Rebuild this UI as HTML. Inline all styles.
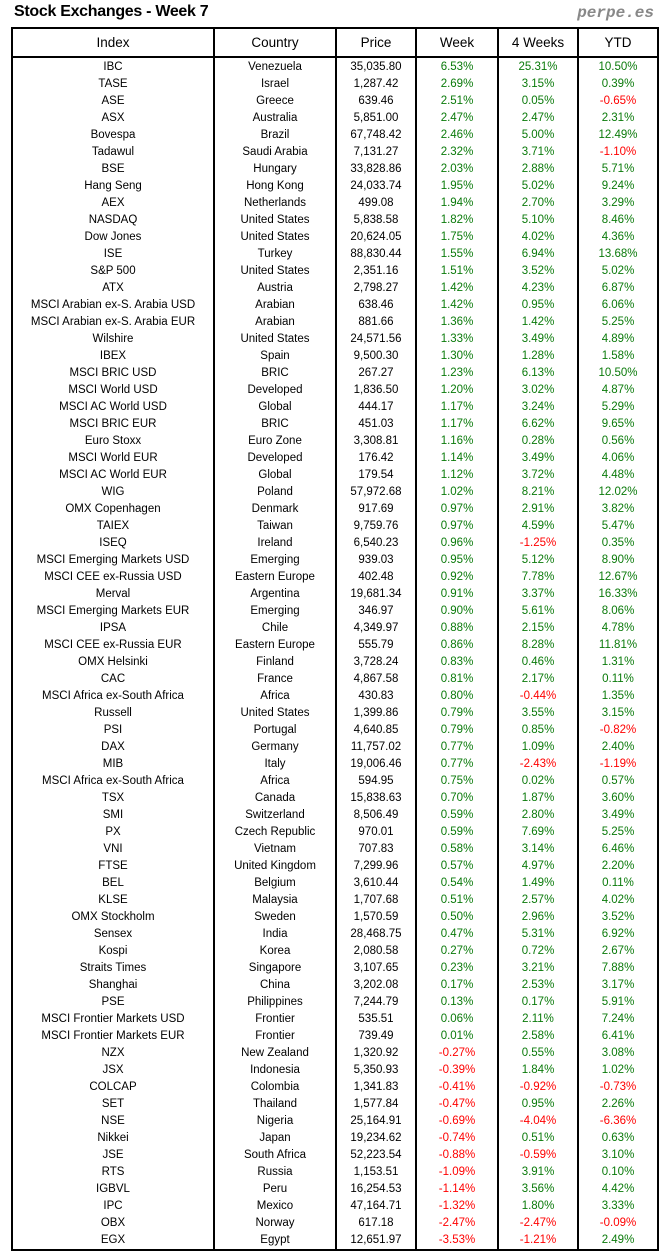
<!DOCTYPE html>
<html><head><meta charset="utf-8"><style>
body{margin:0;width:664px;height:1260px;background:#fff;position:relative;font-family:"Liberation Sans",sans-serif;overflow:hidden}
.t{position:absolute;left:14px;top:3px;font-size:16px;font-weight:bold;letter-spacing:-0.3px}
.p{position:absolute;right:10px;top:4px;font-family:"Liberation Mono",monospace;font-style:italic;font-weight:bold;font-size:16px;color:#888}
table{position:absolute;left:11px;top:27px;border-collapse:collapse;border:2px solid #000;font-size:11.5px}
td{padding:0;height:17px;line-height:17px;text-align:center;border-left:2px solid #000;white-space:nowrap}
th{font-weight:normal;font-size:13.5px;height:27px;padding:0;border:2px solid #000}
td:first-child{border-left:none}
tr.f td{padding-top:1px}
.g{color:#0a7a0a}.r{color:#f00}
</style></head><body>
<div class="t">Stock Exchanges - Week 7</div><div class="p">perpe.es</div>
<table>
<colgroup><col style="width:202px"><col style="width:122px"><col style="width:80px"><col style="width:82px"><col style="width:80px"><col style="width:80px"></colgroup>
<tr><th>Index</th><th>Country</th><th>Price</th><th>Week</th><th>4 Weeks</th><th>YTD</th></tr>
<tr class="f"><td>IBC</td><td>Venezuela</td><td>35,035.80</td><td class="g">6.53%</td><td class="g">25.31%</td><td class="g">10.50%</td></tr>
<tr><td>TASE</td><td>Israel</td><td>1,287.42</td><td class="g">2.69%</td><td class="g">3.15%</td><td class="g">0.39%</td></tr>
<tr><td>ASE</td><td>Greece</td><td>639.46</td><td class="g">2.51%</td><td class="g">0.05%</td><td class="r">-0.65%</td></tr>
<tr><td>ASX</td><td>Australia</td><td>5,851.00</td><td class="g">2.47%</td><td class="g">2.47%</td><td class="g">2.31%</td></tr>
<tr><td>Bovespa</td><td>Brazil</td><td>67,748.42</td><td class="g">2.46%</td><td class="g">5.00%</td><td class="g">12.49%</td></tr>
<tr><td>Tadawul</td><td>Saudi Arabia</td><td>7,131.27</td><td class="g">2.32%</td><td class="g">3.71%</td><td class="r">-1.10%</td></tr>
<tr><td>BSE</td><td>Hungary</td><td>33,828.86</td><td class="g">2.03%</td><td class="g">2.88%</td><td class="g">5.71%</td></tr>
<tr><td>Hang Seng</td><td>Hong Kong</td><td>24,033.74</td><td class="g">1.95%</td><td class="g">5.02%</td><td class="g">9.24%</td></tr>
<tr><td>AEX</td><td>Netherlands</td><td>499.08</td><td class="g">1.94%</td><td class="g">2.70%</td><td class="g">3.29%</td></tr>
<tr><td>NASDAQ</td><td>United States</td><td>5,838.58</td><td class="g">1.82%</td><td class="g">5.10%</td><td class="g">8.46%</td></tr>
<tr><td>Dow Jones</td><td>United States</td><td>20,624.05</td><td class="g">1.75%</td><td class="g">4.02%</td><td class="g">4.36%</td></tr>
<tr><td>ISE</td><td>Turkey</td><td>88,830.44</td><td class="g">1.55%</td><td class="g">6.94%</td><td class="g">13.68%</td></tr>
<tr><td>S&amp;P 500</td><td>United States</td><td>2,351.16</td><td class="g">1.51%</td><td class="g">3.52%</td><td class="g">5.02%</td></tr>
<tr><td>ATX</td><td>Austria</td><td>2,798.27</td><td class="g">1.42%</td><td class="g">4.23%</td><td class="g">6.87%</td></tr>
<tr><td>MSCI Arabian ex-S. Arabia USD</td><td>Arabian</td><td>638.46</td><td class="g">1.42%</td><td class="g">0.95%</td><td class="g">6.06%</td></tr>
<tr><td>MSCI Arabian ex-S. Arabia EUR</td><td>Arabian</td><td>881.66</td><td class="g">1.36%</td><td class="g">1.42%</td><td class="g">5.25%</td></tr>
<tr><td>Wilshire</td><td>United States</td><td>24,571.56</td><td class="g">1.33%</td><td class="g">3.49%</td><td class="g">4.89%</td></tr>
<tr><td>IBEX</td><td>Spain</td><td>9,500.30</td><td class="g">1.30%</td><td class="g">1.28%</td><td class="g">1.58%</td></tr>
<tr><td>MSCI BRIC USD</td><td>BRIC</td><td>267.27</td><td class="g">1.23%</td><td class="g">6.13%</td><td class="g">10.50%</td></tr>
<tr><td>MSCI World USD</td><td>Developed</td><td>1,836.50</td><td class="g">1.20%</td><td class="g">3.02%</td><td class="g">4.87%</td></tr>
<tr><td>MSCI AC World USD</td><td>Global</td><td>444.17</td><td class="g">1.17%</td><td class="g">3.24%</td><td class="g">5.29%</td></tr>
<tr><td>MSCI BRIC EUR</td><td>BRIC</td><td>451.03</td><td class="g">1.17%</td><td class="g">6.62%</td><td class="g">9.65%</td></tr>
<tr><td>Euro Stoxx</td><td>Euro Zone</td><td>3,308.81</td><td class="g">1.16%</td><td class="g">0.28%</td><td class="g">0.56%</td></tr>
<tr><td>MSCI World EUR</td><td>Developed</td><td>176.42</td><td class="g">1.14%</td><td class="g">3.49%</td><td class="g">4.06%</td></tr>
<tr><td>MSCI AC World EUR</td><td>Global</td><td>179.54</td><td class="g">1.12%</td><td class="g">3.72%</td><td class="g">4.48%</td></tr>
<tr><td>WIG</td><td>Poland</td><td>57,972.68</td><td class="g">1.02%</td><td class="g">8.21%</td><td class="g">12.02%</td></tr>
<tr><td>OMX Copenhagen</td><td>Denmark</td><td>917.69</td><td class="g">0.97%</td><td class="g">2.91%</td><td class="g">3.82%</td></tr>
<tr><td>TAIEX</td><td>Taiwan</td><td>9,759.76</td><td class="g">0.97%</td><td class="g">4.59%</td><td class="g">5.47%</td></tr>
<tr><td>ISEQ</td><td>Ireland</td><td>6,540.23</td><td class="g">0.96%</td><td class="r">-1.25%</td><td class="g">0.35%</td></tr>
<tr><td>MSCI Emerging Markets USD</td><td>Emerging</td><td>939.03</td><td class="g">0.95%</td><td class="g">5.12%</td><td class="g">8.90%</td></tr>
<tr><td>MSCI CEE ex-Russia USD</td><td>Eastern Europe</td><td>402.48</td><td class="g">0.92%</td><td class="g">7.78%</td><td class="g">12.67%</td></tr>
<tr><td>Merval</td><td>Argentina</td><td>19,681.34</td><td class="g">0.91%</td><td class="g">3.37%</td><td class="g">16.33%</td></tr>
<tr><td>MSCI Emerging Markets EUR</td><td>Emerging</td><td>346.97</td><td class="g">0.90%</td><td class="g">5.61%</td><td class="g">8.06%</td></tr>
<tr><td>IPSA</td><td>Chile</td><td>4,349.97</td><td class="g">0.88%</td><td class="g">2.15%</td><td class="g">4.78%</td></tr>
<tr><td>MSCI CEE ex-Russia EUR</td><td>Eastern Europe</td><td>555.79</td><td class="g">0.86%</td><td class="g">8.28%</td><td class="g">11.81%</td></tr>
<tr><td>OMX Helsinki</td><td>Finland</td><td>3,728.24</td><td class="g">0.83%</td><td class="g">0.46%</td><td class="g">1.31%</td></tr>
<tr><td>CAC</td><td>France</td><td>4,867.58</td><td class="g">0.81%</td><td class="g">2.17%</td><td class="g">0.11%</td></tr>
<tr><td>MSCI Africa ex-South Africa</td><td>Africa</td><td>430.83</td><td class="g">0.80%</td><td class="r">-0.44%</td><td class="g">1.35%</td></tr>
<tr><td>Russell</td><td>United States</td><td>1,399.86</td><td class="g">0.79%</td><td class="g">3.55%</td><td class="g">3.15%</td></tr>
<tr><td>PSI</td><td>Portugal</td><td>4,640.85</td><td class="g">0.79%</td><td class="g">0.85%</td><td class="r">-0.82%</td></tr>
<tr><td>DAX</td><td>Germany</td><td>11,757.02</td><td class="g">0.77%</td><td class="g">1.09%</td><td class="g">2.40%</td></tr>
<tr><td>MIB</td><td>Italy</td><td>19,006.46</td><td class="g">0.77%</td><td class="r">-2.43%</td><td class="r">-1.19%</td></tr>
<tr><td>MSCI Africa ex-South Africa</td><td>Africa</td><td>594.95</td><td class="g">0.75%</td><td class="g">0.02%</td><td class="g">0.57%</td></tr>
<tr><td>TSX</td><td>Canada</td><td>15,838.63</td><td class="g">0.70%</td><td class="g">1.87%</td><td class="g">3.60%</td></tr>
<tr><td>SMI</td><td>Switzerland</td><td>8,506.49</td><td class="g">0.59%</td><td class="g">2.80%</td><td class="g">3.49%</td></tr>
<tr><td>PX</td><td>Czech Republic</td><td>970.01</td><td class="g">0.59%</td><td class="g">7.69%</td><td class="g">5.25%</td></tr>
<tr><td>VNI</td><td>Vietnam</td><td>707.83</td><td class="g">0.58%</td><td class="g">3.14%</td><td class="g">6.46%</td></tr>
<tr><td>FTSE</td><td>United Kingdom</td><td>7,299.96</td><td class="g">0.57%</td><td class="g">4.97%</td><td class="g">2.20%</td></tr>
<tr><td>BEL</td><td>Belgium</td><td>3,610.44</td><td class="g">0.54%</td><td class="g">1.49%</td><td class="g">0.11%</td></tr>
<tr><td>KLSE</td><td>Malaysia</td><td>1,707.68</td><td class="g">0.51%</td><td class="g">2.57%</td><td class="g">4.02%</td></tr>
<tr><td>OMX Stockholm</td><td>Sweden</td><td>1,570.59</td><td class="g">0.50%</td><td class="g">2.96%</td><td class="g">3.52%</td></tr>
<tr><td>Sensex</td><td>India</td><td>28,468.75</td><td class="g">0.47%</td><td class="g">5.31%</td><td class="g">6.92%</td></tr>
<tr><td>Kospi</td><td>Korea</td><td>2,080.58</td><td class="g">0.27%</td><td class="g">0.72%</td><td class="g">2.67%</td></tr>
<tr><td>Straits Times</td><td>Singapore</td><td>3,107.65</td><td class="g">0.23%</td><td class="g">3.21%</td><td class="g">7.88%</td></tr>
<tr><td>Shanghai</td><td>China</td><td>3,202.08</td><td class="g">0.17%</td><td class="g">2.53%</td><td class="g">3.17%</td></tr>
<tr><td>PSE</td><td>Philippines</td><td>7,244.79</td><td class="g">0.13%</td><td class="g">0.17%</td><td class="g">5.91%</td></tr>
<tr><td>MSCI Frontier Markets USD</td><td>Frontier</td><td>535.51</td><td class="g">0.06%</td><td class="g">2.11%</td><td class="g">7.24%</td></tr>
<tr><td>MSCI Frontier Markets EUR</td><td>Frontier</td><td>739.49</td><td class="g">0.01%</td><td class="g">2.58%</td><td class="g">6.41%</td></tr>
<tr><td>NZX</td><td>New Zealand</td><td>1,320.92</td><td class="r">-0.27%</td><td class="g">0.55%</td><td class="g">3.08%</td></tr>
<tr><td>JSX</td><td>Indonesia</td><td>5,350.93</td><td class="r">-0.39%</td><td class="g">1.84%</td><td class="g">1.02%</td></tr>
<tr><td>COLCAP</td><td>Colombia</td><td>1,341.83</td><td class="r">-0.41%</td><td class="r">-0.92%</td><td class="r">-0.73%</td></tr>
<tr><td>SET</td><td>Thailand</td><td>1,577.84</td><td class="r">-0.47%</td><td class="g">0.95%</td><td class="g">2.26%</td></tr>
<tr><td>NSE</td><td>Nigeria</td><td>25,164.91</td><td class="r">-0.69%</td><td class="r">-4.04%</td><td class="r">-6.36%</td></tr>
<tr><td>Nikkei</td><td>Japan</td><td>19,234.62</td><td class="r">-0.74%</td><td class="g">0.51%</td><td class="g">0.63%</td></tr>
<tr><td>JSE</td><td>South Africa</td><td>52,223.54</td><td class="r">-0.88%</td><td class="r">-0.59%</td><td class="g">3.10%</td></tr>
<tr><td>RTS</td><td>Russia</td><td>1,153.51</td><td class="r">-1.09%</td><td class="g">3.91%</td><td class="g">0.10%</td></tr>
<tr><td>IGBVL</td><td>Peru</td><td>16,254.53</td><td class="r">-1.14%</td><td class="g">3.56%</td><td class="g">4.42%</td></tr>
<tr><td>IPC</td><td>Mexico</td><td>47,164.71</td><td class="r">-1.32%</td><td class="g">1.80%</td><td class="g">3.33%</td></tr>
<tr><td>OBX</td><td>Norway</td><td>617.18</td><td class="r">-2.47%</td><td class="r">-2.47%</td><td class="r">-0.09%</td></tr>
<tr><td>EGX</td><td>Egypt</td><td>12,651.97</td><td class="r">-3.53%</td><td class="r">-1.21%</td><td class="g">2.49%</td></tr>
</table>
</body></html>
